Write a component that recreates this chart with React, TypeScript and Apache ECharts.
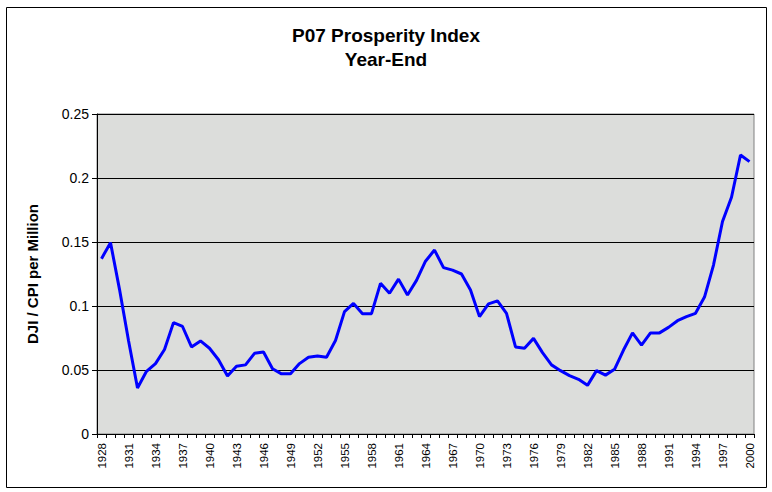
import React, { useEffect, useRef } from "react";
import * as echarts from "echarts";

const years: string[] = [];
for (let y = 1928; y <= 2000; y++) years.push(String(y));

const prosperity = [
  0.137, 0.1495, 0.113, 0.073, 0.036, 0.049, 0.055, 0.066, 0.087, 0.084,
  0.068, 0.0727, 0.067, 0.058, 0.0453, 0.053, 0.054, 0.063, 0.064, 0.051,
  0.047, 0.047, 0.055, 0.06, 0.061, 0.06, 0.073, 0.0956, 0.102, 0.094,
  0.094, 0.1177, 0.11, 0.121, 0.1086, 0.12, 0.135, 0.1437, 0.13, 0.128,
  0.125, 0.1125, 0.0917, 0.1016, 0.104, 0.0943, 0.068, 0.067, 0.0747, 0.0636,
  0.054, 0.0495, 0.0456, 0.0427, 0.038, 0.0495, 0.046, 0.0505, 0.0656, 0.079,
  0.0695, 0.079, 0.079, 0.0833, 0.0885, 0.0917, 0.0943, 0.107, 0.132, 0.166,
  0.185, 0.218, 0.2128,
];

const yTickLabels = ["0", "0.05", "0.1", "0.15", "0.2", "0.25"];

const FONT = "Liberation Sans, Arial, sans-serif";

export default function App() {
  const ref = useRef<HTMLDivElement>(null);
  useEffect(() => {
    document.body.style.margin = "0";
    const chart = echarts.init(ref.current!, null, { renderer: "svg" });
    chart.setOption({
      animation: false,
      backgroundColor: "#ffffff",
      textStyle: { fontFamily: FONT },
      title: {
        text: "P07 Prosperity Index\nYear-End",
        left: "center",
        top: 18,
        textStyle: {
          fontFamily: FONT,
          fontSize: 19,
          fontWeight: "bold",
          color: "#000",
          lineHeight: 24,
        },
      },
      graphic: [
        {
          type: "rect",
          shape: { x: 6.5, y: 7.5, width: 760, height: 480 },
          style: { fill: "none", stroke: "#000", lineWidth: 1 },
          silent: true,
          z: 100,
        },
      ],
      grid: {
        left: 97,
        right: 18,
        top: 114,
        bottom: 58,
        show: true,
        backgroundColor: "#dcdddb",
        borderColor: "#808080",
        borderWidth: 1,
      },
      xAxis: {
        type: "category",
        data: years,
        boundaryGap: true,
        axisLine: { show: true, lineStyle: { color: "#000", width: 1 } },
        axisTick: { show: true, interval: 0, length: 4, lineStyle: { color: "#000" } },
        axisLabel: {
          interval: 2,
          rotate: 90,
          fontSize: 11.5,
          color: "#000",
          margin: 9,
          fontFamily: FONT,
        },
        splitLine: { show: false },
      },
      yAxis: {
        type: "value",
        min: 0,
        max: 0.25,
        interval: 0.05,
        name: "DJI / CPI per Million",
        nameLocation: "middle",
        nameRotate: 90,
        nameGap: 57,
        nameTextStyle: {
          fontFamily: FONT,
          fontSize: 15,
          fontWeight: "bold",
          color: "#000",
        },
        axisLine: { show: true, lineStyle: { color: "#000", width: 1 } },
        axisTick: { show: true, length: 5, lineStyle: { color: "#000" } },
        axisLabel: {
          fontSize: 14,
          color: "#000",
          margin: 8,
          fontFamily: FONT,
          formatter: (v: number) => yTickLabels[Math.round(v / 0.05)] ?? String(v),
        },
        splitLine: { show: true, lineStyle: { color: "#000", width: 1 } },
      },
      series: [
        {
          type: "line",
          data: prosperity,
          showSymbol: false,
          symbol: "none",
          lineStyle: { color: "#0000ff", width: 3 },
          itemStyle: { color: "#0000ff" },
        },
      ],
    });
    return () => chart.dispose();
  }, []);
  return <div ref={ref} style={{ width: 772, height: 492 }} />;
}
